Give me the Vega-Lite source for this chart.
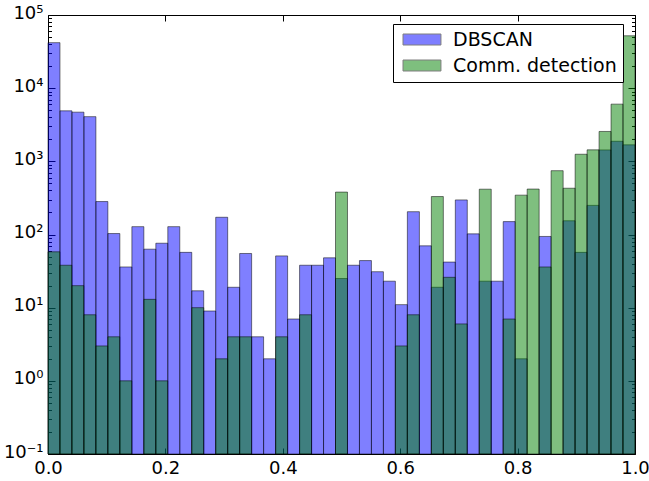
{
  "$schema": "https://vega.github.io/schema/vega-lite/v6.json",
  "width": 587,
  "height": 439,
  "autosize": "none",
  "padding": {"left": 48, "top": 15, "right": 14, "bottom": 27},
  "background": "white",
  "config": {
    "view": {"stroke": "black", "strokeWidth": 1},
    "font": "DejaVu Sans",
    "axis": {"domain": false, "grid": false, "labelFont": "DejaVu Sans", "labelFontSize": 18, "labelColor": "black", "tickColor": "black", "tickWidth": 1, "title": null, "labelFlush": false, "labelOverlap": false}
  },
  "data": {"values": [
    {"b0":0,"b1":0.0204,"dbscan":41900,"comm":58},
    {"b0":0.0204,"b1":0.0408,"dbscan":4900,"comm":38},
    {"b0":0.0408,"b1":0.0612,"dbscan":4700,"comm":20},
    {"b0":0.0612,"b1":0.0816,"dbscan":4080,"comm":8},
    {"b0":0.0816,"b1":0.102,"dbscan":282,"comm":3},
    {"b0":0.102,"b1":0.1224,"dbscan":103,"comm":4},
    {"b0":0.1224,"b1":0.1429,"dbscan":36,"comm":1},
    {"b0":0.1429,"b1":0.1633,"dbscan":128,"comm":0},
    {"b0":0.1633,"b1":0.1837,"dbscan":63,"comm":13},
    {"b0":0.1837,"b1":0.2041,"dbscan":76,"comm":1},
    {"b0":0.2041,"b1":0.2245,"dbscan":128,"comm":0},
    {"b0":0.2245,"b1":0.2449,"dbscan":57,"comm":0},
    {"b0":0.2449,"b1":0.2653,"dbscan":17,"comm":10},
    {"b0":0.2653,"b1":0.2857,"dbscan":9,"comm":0},
    {"b0":0.2857,"b1":0.3061,"dbscan":172,"comm":2},
    {"b0":0.3061,"b1":0.3265,"dbscan":19,"comm":4},
    {"b0":0.3265,"b1":0.3469,"dbscan":55,"comm":4},
    {"b0":0.3469,"b1":0.3673,"dbscan":4,"comm":0},
    {"b0":0.3673,"b1":0.3878,"dbscan":2,"comm":0},
    {"b0":0.3878,"b1":0.4082,"dbscan":51,"comm":4},
    {"b0":0.4082,"b1":0.4286,"dbscan":7,"comm":0},
    {"b0":0.4286,"b1":0.449,"dbscan":38,"comm":8},
    {"b0":0.449,"b1":0.4694,"dbscan":38,"comm":0},
    {"b0":0.4694,"b1":0.4898,"dbscan":48,"comm":0},
    {"b0":0.4898,"b1":0.5102,"dbscan":25,"comm":380},
    {"b0":0.5102,"b1":0.5306,"dbscan":38,"comm":0},
    {"b0":0.5306,"b1":0.551,"dbscan":44,"comm":0},
    {"b0":0.551,"b1":0.5714,"dbscan":31,"comm":0},
    {"b0":0.5714,"b1":0.5918,"dbscan":23,"comm":0},
    {"b0":0.5918,"b1":0.6122,"dbscan":11,"comm":3},
    {"b0":0.6122,"b1":0.6327,"dbscan":205,"comm":8},
    {"b0":0.6327,"b1":0.6531,"dbscan":70,"comm":0},
    {"b0":0.6531,"b1":0.6735,"dbscan":19,"comm":330},
    {"b0":0.6735,"b1":0.6939,"dbscan":42,"comm":26},
    {"b0":0.6939,"b1":0.7143,"dbscan":297,"comm":6},
    {"b0":0.7143,"b1":0.7347,"dbscan":102,"comm":0},
    {"b0":0.7347,"b1":0.7551,"dbscan":23,"comm":416},
    {"b0":0.7551,"b1":0.7755,"dbscan":23,"comm":0},
    {"b0":0.7755,"b1":0.7959,"dbscan":150,"comm":7},
    {"b0":0.7959,"b1":0.8163,"dbscan":2,"comm":345},
    {"b0":0.8163,"b1":0.8367,"dbscan":0,"comm":418},
    {"b0":0.8367,"b1":0.8571,"dbscan":94,"comm":36},
    {"b0":0.8571,"b1":0.8776,"dbscan":0,"comm":745},
    {"b0":0.8776,"b1":0.898,"dbscan":154,"comm":429},
    {"b0":0.898,"b1":0.9184,"dbscan":57,"comm":1250},
    {"b0":0.9184,"b1":0.9388,"dbscan":250,"comm":1435},
    {"b0":0.9388,"b1":0.9592,"dbscan":1432,"comm":2560},
    {"b0":0.9592,"b1":0.9796,"dbscan":1880,"comm":6050},
    {"b0":0.9796,"b1":1,"dbscan":1680,"comm":52000}
  ]},
  "transform": [
    {"fold": ["dbscan", "comm"], "as": ["method", "count"]},
    {"filter": "datum.count > 0"}
  ],
  "layer": [
    {
      "mark": {"type": "bar", "stroke": "black", "strokeWidth": 1, "fillOpacity": 0.5, "strokeOpacity": 0.5},
      "encoding": {
        "x": {"field": "b0", "type": "quantitative", "scale": {"domain": [0, 1], "nice": false, "zero": false},
              "axis": {"orient": "bottom", "values": [0, 0.2, 0.4, 0.6, 0.8, 1.0], "format": ".1f", "tickSize": -6, "labelPadding": 11}},
        "x2": {"field": "b1"},
        "y": {"field": "count", "type": "quantitative", "scale": {"type": "log", "domain": [0.1, 100000], "nice": false},
              "axis": {"orient": "left",
                       "values": [0.1,0.2,0.3,0.4,0.5,0.6,0.7,0.8,0.9,1,2,3,4,5,6,7,8,9,10,20,30,40,50,60,70,80,90,100,200,300,400,500,600,700,800,900,1000,2000,3000,4000,5000,6000,7000,8000,9000,10000,20000,30000,40000,50000,60000,70000,80000,90000,100000],
                       "tickSize": {"condition": {"test": "abs(log(datum.value)/LN10 - round(log(datum.value)/LN10)) < 0.001", "value": -7}, "value": -3.5},
                       "labelExpr": "abs(log(datum.value)/LN10 - round(log(datum.value)/LN10)) < 0.001 ? '10' + ['⁻¹','⁰','¹','²','³','⁴','⁵'][round(log(datum.value)/LN10) + 1] : ''",
                       "labelPadding": 12, "labelOffset": -2}},
        "y2": {"datum": 0.1},
        "color": {"field": "method", "type": "nominal",
                  "scale": {"domain": ["dbscan", "comm"], "range": ["#0000ff", "#008000"]},
                  "legend": {"orient": "none", "legendX": 345, "legendY": 9, "title": null,
                             "strokeColor": "black", "fillColor": "white", "padding": 6, "cornerRadius": 0,
                             "labelFont": "DejaVu Sans", "labelFontSize": 19, "labelColor": "black", "labelLimit": 400,
                             "symbolType": "M-1,-1H5.9V1H-1Z", "symbolSize": 121, "symbolOpacity": 0.5,
                             "symbolStrokeColor": "black", "symbolStrokeWidth": 1, "labelOffset": 35, "rowPadding": 6,
                             "labelExpr": "datum.label == 'dbscan' ? 'DBSCAN' : 'Comm. detection'"}}
      }
    },
    {
      "mark": {"type": "bar", "opacity": 0},
      "encoding": {
        "x": {"field": "b0", "type": "quantitative", "scale": {"domain": [0, 1], "nice": false, "zero": false},
              "axis": {"orient": "top", "values": [0, 0.2, 0.4, 0.6, 0.8, 1.0], "labels": false, "tickSize": -6}},
        "x2": {"field": "b1"},
        "y": {"field": "count", "type": "quantitative", "scale": {"type": "log", "domain": [0.1, 100000], "nice": false},
              "axis": {"orient": "right",
                       "values": [0.1,0.2,0.3,0.4,0.5,0.6,0.7,0.8,0.9,1,2,3,4,5,6,7,8,9,10,20,30,40,50,60,70,80,90,100,200,300,400,500,600,700,800,900,1000,2000,3000,4000,5000,6000,7000,8000,9000,10000,20000,30000,40000,50000,60000,70000,80000,90000,100000],
                       "tickSize": {"condition": {"test": "abs(log(datum.value)/LN10 - round(log(datum.value)/LN10)) < 0.001", "value": -7}, "value": -3.5},
                       "labels": false}},
        "y2": {"datum": 0.1}
      }
    }
  ],
  "resolve": {"axis": {"x": "independent", "y": "independent"}}
}
